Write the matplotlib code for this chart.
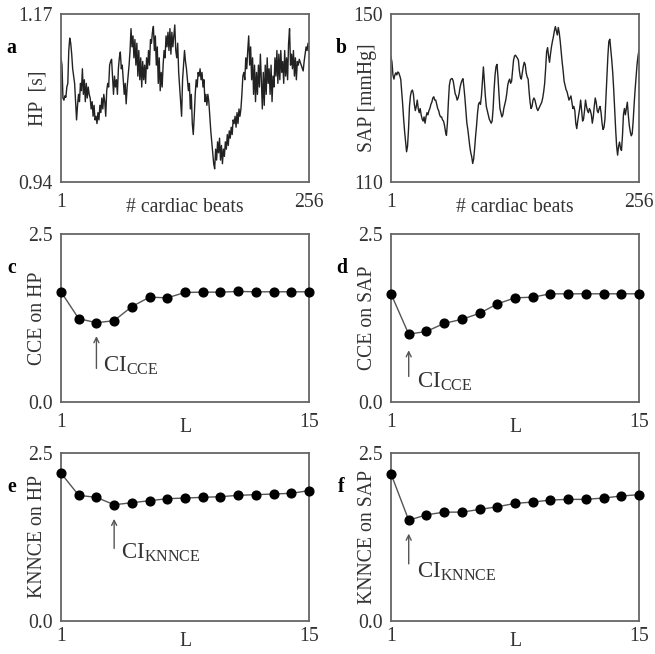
import matplotlib
matplotlib.use("Agg")
import matplotlib.pyplot as plt
import numpy as np

plt.rcParams['font.family'] = ['Liberation Serif', 'DejaVu Serif']
plt.rcParams['mathtext.fontset'] = 'custom'
plt.rcParams['mathtext.rm'] = 'Liberation Serif'
plt.rcParams['mathtext.it'] = 'Liberation Serif:italic'

# ---------------- data ----------------
hp_series = [
    1.110, 1.100, 1.055, 1.052, 1.058, 1.056, 1.070, 1.075, 1.120, 1.137,
    1.130, 1.115, 1.095, 1.085, 1.075, 1.050, 1.025, 1.045, 1.060, 1.050,
    1.075, 1.065, 1.095, 1.060, 1.080, 1.050, 1.075, 1.055, 1.070, 1.060,
    1.055, 1.040, 1.050, 1.030, 1.045, 1.025, 1.030, 1.020, 1.035, 1.025,
    1.045, 1.035, 1.055, 1.040, 1.060, 1.050, 1.030, 1.065, 1.075, 1.070,
    1.100, 1.105, 1.108, 1.085, 1.060, 1.085, 1.070, 1.080, 1.060, 1.095,
    1.110, 1.118, 1.095, 1.100, 1.080, 1.060, 1.075, 1.047, 1.070, 1.085,
    1.100, 1.120, 1.150, 1.125, 1.140, 1.110, 1.135, 1.100, 1.130, 1.085,
    1.120, 1.080, 1.110, 1.070, 1.105, 1.080, 1.100, 1.075, 1.110, 1.095,
    1.120, 1.100, 1.135, 1.130, 1.145, 1.153, 1.120, 1.140, 1.100, 1.125,
    1.075, 1.110, 1.065, 1.090, 1.070, 1.100, 1.120, 1.110, 1.140, 1.125,
    1.145, 1.120, 1.150, 1.115, 1.145, 1.125, 1.140, 1.155, 1.120, 1.110,
    1.130, 1.090, 1.070, 1.050, 1.030, 1.080, 1.100, 1.120, 1.105, 1.095,
    1.080, 1.065, 1.075, 1.040, 1.060, 1.020, 1.005, 1.030, 1.060, 1.080,
    1.070, 1.090, 1.085, 1.095, 1.080, 1.090, 1.070, 1.080, 1.050, 1.060,
    1.045, 1.060, 1.050, 1.030, 1.010, 0.995, 0.980, 0.965, 0.958, 0.985,
    0.970, 0.995, 0.980, 1.000, 0.970, 0.990, 0.965, 0.985, 0.975, 0.995,
    0.985, 1.005, 0.990, 1.010, 1.000, 1.015, 1.005, 1.025, 1.020, 1.030,
    1.015, 1.035, 1.020, 1.040, 1.030, 1.040, 1.060, 1.085, 1.090, 1.080,
    1.110, 1.095, 1.120, 1.140, 1.100, 1.125, 1.080, 1.110, 1.060, 1.100,
    1.050, 1.090, 1.060, 1.100, 1.070, 1.115, 1.080, 1.040, 1.090, 1.045,
    1.100, 1.060, 1.110, 1.075, 1.095, 1.060, 1.100, 1.050, 1.085, 1.070,
    1.110, 1.085, 1.120, 1.075, 1.115, 1.080, 1.120, 1.090, 1.105, 1.075,
    1.120, 1.085, 1.110, 1.080, 1.130, 1.150, 1.100, 1.115, 1.095, 1.120,
    1.085, 1.110, 1.080, 1.105, 1.100, 1.108, 1.104, 1.100, 1.096, 1.092,
    1.105, 1.115, 1.125, 1.120, 1.130, 1.118,
]

sap_series = [
    139.8, 138.5, 135.5, 134.5, 135.5, 136.0, 135.5, 136.2, 136.0, 135.3,
    134.5, 131.5, 128.5, 125.0, 122.0, 119.5, 117.2, 118.5, 122.5, 128.0,
    130.5, 131.6, 131.9, 131.0, 128.5, 127.0, 128.0, 129.5, 127.5, 126.5,
    127.5, 126.0, 125.0, 124.5, 125.5, 124.0, 125.5, 126.5, 126.0, 127.0,
    127.5, 128.5, 129.0, 130.0, 130.3, 129.5, 129.5, 128.5, 127.5, 127.0,
    126.0, 125.5, 125.5, 124.8, 124.5, 123.5, 122.0, 121.1, 124.0, 129.0,
    133.0, 134.3, 134.6, 134.6, 134.0, 132.5, 131.0, 130.5, 129.5, 130.0,
    131.0, 132.5, 133.5, 134.2, 134.6, 132.5, 130.0, 127.0, 124.0, 122.5,
    120.5, 118.5, 117.0, 116.0, 114.4, 115.5, 118.0, 121.0, 123.5, 126.5,
    128.5, 129.0, 128.5, 130.5, 134.0, 137.4, 134.0, 130.5, 128.0, 127.0,
    126.0, 125.0, 124.5, 124.0, 124.5, 127.5, 132.0, 135.5, 137.5, 138.0,
    135.0, 131.0, 127.5, 126.5, 125.5, 126.0, 127.5, 128.5, 129.5, 131.0,
    133.0, 134.0, 134.5, 133.5, 134.0, 136.5, 139.0, 140.0, 140.2, 139.8,
    139.5, 139.0, 136.5, 135.0, 134.5, 136.0, 137.5, 138.5, 138.0, 136.0,
    135.0, 134.5, 131.5, 129.0, 127.5, 128.0, 129.5, 130.0, 129.5, 128.5,
    127.5, 127.0, 127.5, 128.0, 128.5, 129.0, 130.0, 131.5, 133.5, 137.0,
    141.0, 142.0, 140.0, 138.5, 140.5, 142.2, 143.5, 144.6, 146.0, 147.0,
    146.0, 145.0, 146.8, 145.5, 143.5, 141.0, 138.5, 136.5, 134.0, 133.0,
    132.0, 131.5, 130.5, 129.5, 130.0, 130.5, 129.0, 127.5, 128.0, 127.0,
    124.0, 122.7, 124.5, 126.0, 127.5, 129.5, 127.0, 124.5, 125.0, 127.0,
    129.5, 128.0, 127.0, 126.5, 127.5, 127.0, 126.0, 124.0, 125.5, 128.0,
    130.0, 129.0, 127.0, 126.5, 127.5, 128.0, 126.5, 124.0, 122.5, 123.0,
    125.0, 130.0, 135.0, 140.0, 143.5, 144.0, 141.5, 139.0, 136.0, 132.0,
    127.0, 122.5, 118.5, 116.4, 118.5, 119.5, 118.0, 117.5, 121.0, 126.0,
    127.5, 126.0, 127.5, 129.0, 126.0, 123.5, 122.0, 121.0, 121.5, 124.5,
    128.5, 132.0, 135.0, 138.0, 140.0, 141.4,
]

L_values = list(range(1, 16))
cce_hp = [1.64, 1.24, 1.18, 1.21, 1.42, 1.56, 1.55, 1.63, 1.635, 1.635,
          1.645, 1.64, 1.64, 1.64, 1.64]
cce_sap = [1.61, 1.01, 1.05, 1.17, 1.23, 1.32, 1.46, 1.55, 1.56, 1.61,
           1.61, 1.61, 1.61, 1.61, 1.61]
knnce_hp = [2.20, 1.87, 1.84, 1.73, 1.76, 1.79, 1.82, 1.83, 1.84, 1.85,
            1.87, 1.88, 1.89, 1.90, 1.94]
knnce_sap = [2.19, 1.50, 1.58, 1.62, 1.62, 1.66, 1.70, 1.75, 1.77, 1.80,
             1.81, 1.81, 1.83, 1.86, 1.88]

# ---------------- figure ----------------
W, H = 655, 654
fig = plt.figure(figsize=(W / 100, H / 100), dpi=100)

def px_axes(left, top, right, bottom):
    return fig.add_axes([left / W, 1 - bottom / H, (right - left) / W, (bottom - top) / H])

spine_col = '#666666'
FS = 14.2

def style(ax, xlim, ylim, xticks, yticks, xtl, ytl, xlabel, ylabel, letter,
          xpad=8, xlab_y=-0.15):
    ax.set_xlim(*xlim)
    ax.set_ylim(*ylim)
    for s in ax.spines.values():
        s.set_color(spine_col)
        s.set_linewidth(1.3)
    ax.set_xticks(xticks)
    ax.set_xticklabels(xtl, fontsize=FS)
    ax.set_yticks(yticks)
    ax.set_yticklabels(ytl, fontsize=FS)
    ax.tick_params(axis='both', length=0, colors='#333333')
    ax.tick_params(axis='x', pad=xpad)
    ax.tick_params(axis='y', pad=6)
    ax.text(0.5, xlab_y, xlabel, transform=ax.transAxes, ha='center', va='center',
            fontsize=FS, color='#333333')
    ax.text(-0.093, 0.5, ylabel, transform=ax.transAxes, ha='center', va='center',
            rotation=90, fontsize=FS, color='#333333')
    ax.text(-0.2, 0.8, letter, transform=ax.transAxes, ha='center', va='center',
            fontsize=FS, fontweight='bold')

# panel a / b : time series
beats_hp = np.arange(1, len(hp_series) + 1)
beats_sap = np.arange(1, len(sap_series) + 1)

ax_a = px_axes(61, 14, 309, 182)
ax_a.plot(beats_hp, hp_series, color='#222222', lw=1.0)
style(ax_a, (1, 256), (0.94, 1.17), [1, 256], [0.94, 1.17], ['1', '256'],
      ['0.94', '1.17'], '# cardiac beats', 'HP  [s]', 'a')

ax_b = px_axes(391, 14, 639, 182)
ax_b.plot(beats_sap, sap_series, color='#222222', lw=1.0)
style(ax_b, (1, 256), (110, 150), [1, 256], [110, 150], ['1', '256'],
      ['110', '150'], '# cardiac beats', 'SAP [mmHg]', 'b')

def entropy_panel(rect, vals, ylabel, letter, ci_idx, arrow_y, text_xy, sub,
                  xpad=8, xlab_y=-0.15):
    ax = px_axes(*rect)
    ax.plot(L_values, vals, color='#555555', lw=1.0, marker='o', ms=6.3,
            mfc='black', mec='black', clip_on=False, zorder=3)
    style(ax, (1, 15), (0, 2.5), [1, 15], [0, 2.5], ['1', '15'], ['0.0', '2.5'],
          'L', ylabel, letter, xpad=xpad, xlab_y=xlab_y)
    ax.annotate('', xy=(L_values[ci_idx], arrow_y[1]), xytext=(L_values[ci_idx], arrow_y[0]),
                arrowprops=dict(arrowstyle='->', color='#555555', lw=1.0,
                                shrinkA=0, shrinkB=0, mutation_scale=9))
    ax.text(text_xy[0], text_xy[1], r'$\mathrm{CI}_{\mathrm{' + sub + '}}$',
            ha='left', va='baseline', fontsize=16.5, color='#333333')
    return ax

entropy_panel((61, 234, 309, 402), cce_hp, 'CCE on HP', 'c', 2, (0.50, 0.98), (3.37, 0.45), 'CCE')
entropy_panel((391, 234, 639, 402), cce_sap, 'CCE on SAP', 'd', 1, (0.38, 0.77), (2.47, 0.21), 'CCE')
entropy_panel((61, 453, 309, 621), knnce_hp, 'KNNCE on HP', 'e', 3, (1.08, 1.52), (4.37, 0.93), 'KNNCE',
              xpad=4, xlab_y=-0.12)
entropy_panel((391, 453, 639, 621), knnce_sap, 'KNNCE on SAP', 'f', 1, (0.85, 1.30), (2.48, 0.65), 'KNNCE',
              xpad=4, xlab_y=-0.12)

fig.savefig('out.png', dpi=100)
